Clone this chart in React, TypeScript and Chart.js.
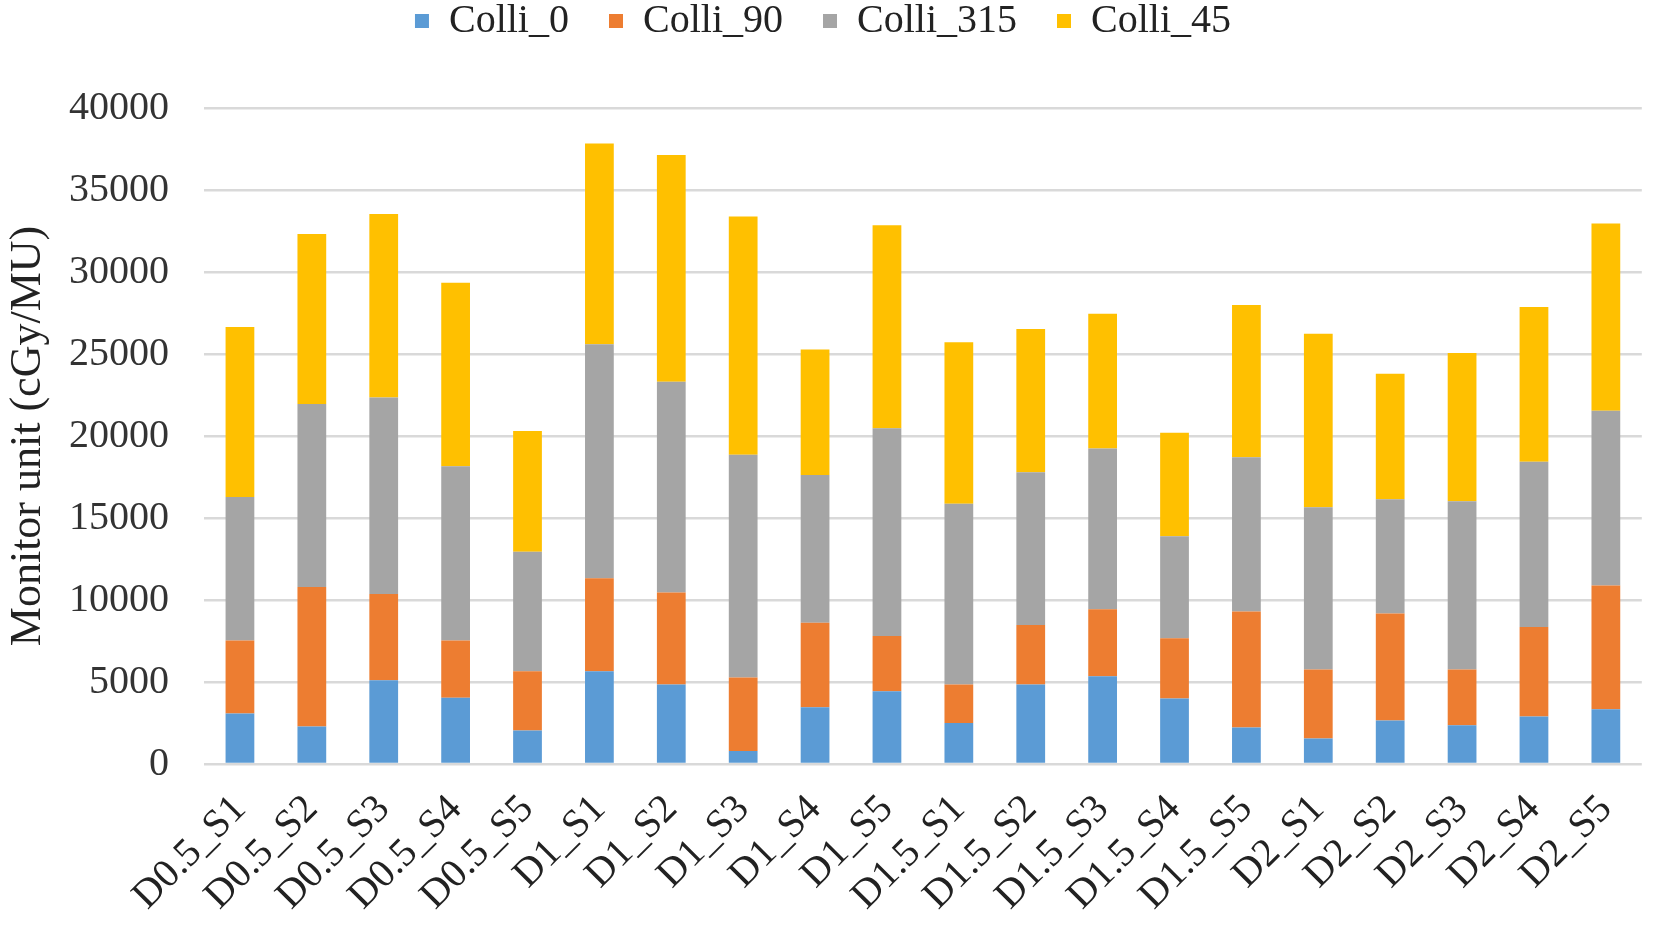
import { useEffect, useRef } from 'react';
import { Chart, registerables, type Plugin } from 'chart.js';

Chart.register(...registerables);

const categories = [
  'D0.5_S1', 'D0.5_S2', 'D0.5_S3', 'D0.5_S4', 'D0.5_S5',
  'D1_S1', 'D1_S2', 'D1_S3', 'D1_S4', 'D1_S5',
  'D1.5_S1', 'D1.5_S2', 'D1.5_S3', 'D1.5_S4', 'D1.5_S5',
  'D2_S1', 'D2_S2', 'D2_S3', 'D2_S4', 'D2_S5',
];

const colli0 = [3080, 2290, 5100, 4040, 2040, 5660, 4850, 800, 3460, 4440, 2500, 4850, 5350, 3990, 2220, 1560, 2650, 2370, 2900, 3340];
const colli90 = [4450, 8500, 5260, 3490, 3610, 5660, 5610, 4480, 5150, 3360, 2350, 3630, 4090, 3680, 7080, 4200, 6530, 3390, 5450, 7540];
const colli315 = [8750, 11160, 11990, 10620, 7290, 14270, 12850, 13580, 9010, 12680, 11020, 9310, 9800, 6210, 9410, 9890, 6970, 10260, 10080, 10660];
const colli45 = [10370, 10360, 11180, 11200, 7370, 12240, 13830, 14520, 7660, 12370, 9840, 8730, 8220, 6320, 9280, 10590, 7640, 9040, 9430, 11410];

const yTicks = [0, 5000, 10000, 15000, 20000, 25000, 30000, 35000, 40000];

const FONT = '"Liberation Serif", "Times New Roman", serif';
const W = 1654;
const H = 925;

// push the plot area down below the legend
const legendSpacer: Plugin<'bar'> = {
  id: 'legendSpacer',
  beforeInit(chart) {
    const legend = chart.legend as unknown as { fit: () => void; height: number } | undefined;
    if (!legend) return;
    const origFit = legend.fit;
    legend.fit = function fit() {
      origFit.call(this);
      this.height += 57;
    };
  },
};

export default function App() {
  const canvasRef = useRef<HTMLCanvasElement>(null);

  useEffect(() => {
    document.body.style.margin = '0';
    const canvas = canvasRef.current;
    if (!canvas) return;

    const chart = new Chart(canvas, {
      type: 'bar',
      data: {
        labels: categories,
        datasets: [
          { label: 'Colli_0', data: colli0, backgroundColor: '#5B9BD5' },
          { label: 'Colli_90', data: colli90, backgroundColor: '#ED7D31' },
          { label: 'Colli_315', data: colli315, backgroundColor: '#A5A5A5' },
          { label: 'Colli_45', data: colli45, backgroundColor: '#FFC000' },
        ],
      },
      options: {
        responsive: false,
        devicePixelRatio: 1,
        animation: false,
        layout: { padding: { top: -39, left: 0, right: 8, bottom: 0 } },
        datasets: { bar: { categoryPercentage: 1, barPercentage: 0.4 } },
        plugins: {
          tooltip: { enabled: false },
          legend: {
            position: 'top',
            labels: {
              boxWidth: 14,
              boxHeight: 14,
              padding: 40,
              color: '#222',
              font: { family: FONT, size: 40 },
            },
          },
        },
        scales: {
          x: {
            stacked: true,
            grid: { display: false },
            border: { display: false },
            ticks: {
              color: '#222',
              font: { family: FONT, size: 40 },
              maxRotation: 45,
              minRotation: 45,
              padding: 14,
              autoSkip: false,
            },
            afterFit: (scale) => {
              scale.height = 161;
            },
          },
          y: {
            stacked: true,
            min: 0,
            max: 40000,
            afterBuildTicks: (scale) => {
              scale.ticks = yTicks.map((v) => ({ value: v }));
            },
            grid: { color: '#D9D9D9', lineWidth: 2.5, drawTicks: false },
            border: { display: false },
            ticks: {
              color: '#333',
              font: { family: FONT, size: 40 },
              padding: 35,
              callback: (v) => String(v),
            },
            title: {
              display: true,
              text: 'Monitor unit (cGy/MU)',
              color: '#222',
              font: { family: FONT, size: 44 },
              padding: { top: 2, bottom: 0 },
            },
            afterFit: (scale) => {
              scale.width = 204;
            },
          },
        },
      },
      plugins: [legendSpacer],
    });

    return () => {
      chart.destroy();
    };
  }, []);

  return (
    <div style={{ width: W, height: H, background: '#fff' }}>
      <canvas ref={canvasRef} width={W} height={H} style={{ width: W, height: H }} />
    </div>
  );
}
